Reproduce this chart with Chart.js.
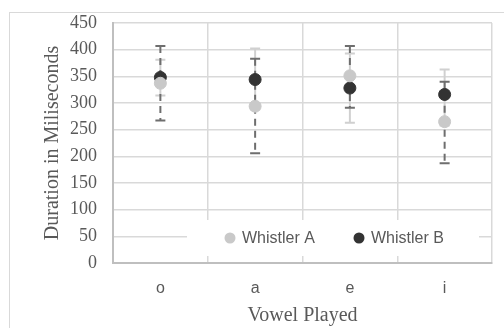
<!DOCTYPE html>
<html>
<head>
<meta charset="utf-8">
<script src="https://cdn.jsdelivr.net/npm/chart.js@4"></script>
<style>
  html, body { margin: 0; padding: 0; background: #fff; }
  #wrap { position: relative; width: 504px; height: 328px; overflow: hidden; }
  #frame { position: absolute; left: 9px; top: 12px; width: 520px; height: 340px; border: 1px solid #d9d9d9; }
  canvas { position: absolute; left: 0; top: 0; }
</style>
</head>
<body>
<div id="wrap">
  <div id="frame"></div>
  <canvas id="chart" width="504" height="328"></canvas>
</div>
<script>
// --- data ---
const vowels = ['o', 'a', 'e', 'i'];
const meanA = [337, 294, 351, 265];
const lowA = [314, 288, 263, 258];
const highA = [381, 402, 393, 363];
const meanB = [348, 344, 328, 316];
const lowB = [267, 206, 291, 187];
const highB = [407, 383, 407, 340];
const yTicks = [0, 50, 100, 150, 200, 250, 300, 350, 400, 450];

const lightGrey = '#c9c9c9';
const darkGrey = '#333333';

// error bars + legend, drawn under the points
const errorBars = {
    id: 'errorBars',
    beforeDatasetsDraw: chart => {
        const ctx = chart.ctx;
        const x = chart.scales.x;
        const y = chart.scales.y;
        const bars = [
            { low: lowA, high: highA, color: '#d0d0d0', dash: [] },
            { low: lowB, high: highB, color: '#6e6e6e', dash: [7, 5] }
        ];
        bars.forEach(b => {
            ctx.save();
            ctx.strokeStyle = b.color;
            ctx.lineWidth = 2;
            vowels.forEach((v, i) => {
                const px = x.getPixelForValue(i);
                const top = y.getPixelForValue(b.high[i]);
                const bot = y.getPixelForValue(b.low[i]);
                ctx.setLineDash(b.dash);
                ctx.beginPath();
                ctx.moveTo(px, top);
                ctx.lineTo(px, bot);
                ctx.stroke();
                ctx.setLineDash([]);
                ctx.beginPath();
                ctx.moveTo(px - 5, top);
                ctx.lineTo(px + 5, top);
                ctx.moveTo(px - 5, bot);
                ctx.lineTo(px + 5, bot);
                ctx.stroke();
            });
            ctx.restore();
        });

        // legend box inside the plot area
        ctx.save();
        ctx.fillStyle = '#fff';
        ctx.fillRect(187, 220, 292, 36);
        ctx.font = '16px "Liberation Sans"';
        ctx.textBaseline = 'middle';
        const items = [
            { label: chart.data.datasets[0].label, color: lightGrey, x: 230 },
            { label: chart.data.datasets[1].label, color: darkGrey, x: 359 }
        ];
        items.forEach(it => {
            ctx.fillStyle = it.color;
            ctx.beginPath();
            ctx.arc(it.x, 238, 5.5, 0, 2 * Math.PI);
            ctx.fill();
            ctx.fillStyle = '#595959';
            ctx.fillText(it.label, it.x + 12, 239);
        });
        ctx.restore();
    }
};

new Chart(document.getElementById('chart'), {
    type: 'line',
    data: {
        labels: vowels,
        datasets: [
            {
                label: 'Whistler A',
                data: meanA,
                showLine: false,
                pointRadius: 6,
                pointBackgroundColor: lightGrey,
                pointBorderColor: lightGrey,
                borderColor: lightGrey
            },
            {
                label: 'Whistler B',
                data: meanB,
                showLine: false,
                pointRadius: 6,
                pointBackgroundColor: darkGrey,
                pointBorderColor: darkGrey,
                borderColor: darkGrey
            }
        ]
    },
    options: {
        responsive: false,
        animation: false,
        layout: { padding: { top: 23, right: 12, bottom: 0, left: 0 } },
        plugins: {
            legend: { display: false },
            tooltip: { enabled: false }
        },
        scales: {
            x: {
                offset: true,
                grid: { offset: true, color: '#d9d9d9', lineWidth: 1.5, drawTicks: false },
                border: { color: '#bfbfbf', width: 2 },
                ticks: {
                    padding: 16,
                    color: '#595959',
                    font: { family: '"Liberation Sans"', size: 16 }
                },
                title: {
                    display: true,
                    text: 'Vowel Played',
                    color: '#595959',
                    font: { family: '"Liberation Serif"', size: 20 },
                    padding: { top: 0, bottom: 0 }
                },
                afterFit: scale => { scale.height = 65; }
            },
            y: {
                min: 0,
                max: 450,
                afterBuildTicks: scale => {
                    scale.ticks = yTicks.map(v => ({ value: v }));
                },
                grid: { color: '#d9d9d9', lineWidth: 1.5, drawTicks: false },
                border: { color: '#bfbfbf', width: 2 },
                ticks: {
                    padding: 16,
                    color: '#595959',
                    font: { family: '"Liberation Serif"', size: 18 }
                },
                title: {
                    display: true,
                    text: 'Duration in Miliseconds',
                    color: '#595959',
                    font: { family: '"Liberation Serif"', size: 20 },
                    padding: { top: 41, bottom: 0 }
                },
                afterFit: scale => {
                    scale.width = 113;
                    scale.paddingTop = 0;
                    scale.paddingBottom = 0;
                }
            }
        }
    },
    plugins: [errorBars]
});
</script>
</body>
</html>
